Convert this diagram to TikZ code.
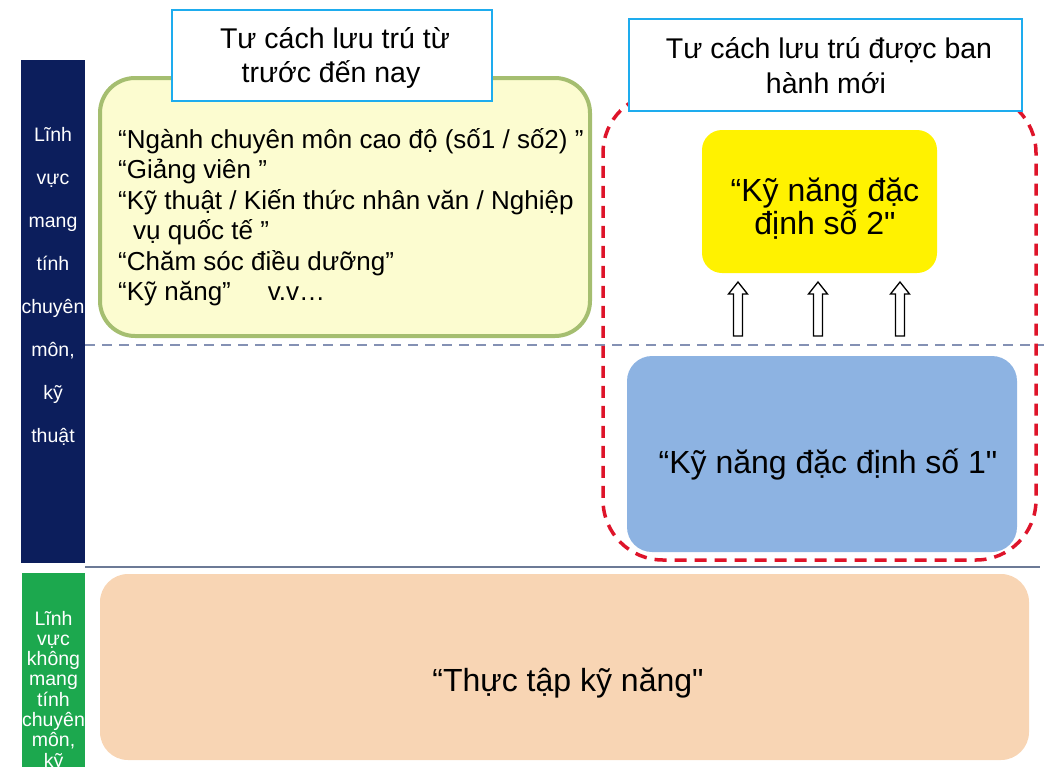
\documentclass[tikz,border=0pt]{standalone}
\usepackage{fontspec}
\setmainfont{Liberation Sans}[Ligatures=TeXOff]
\definecolor{navybar}{RGB}{12,30,92}
\definecolor{greenbar}{RGB}{28,168,78}
\definecolor{oliveedge}{RGB}{165,190,112}
\definecolor{paleyellow}{RGB}{252,252,208}
\definecolor{calloutblue}{RGB}{30,172,238}
\definecolor{dashred}{RGB}{222,20,42}
\definecolor{skyfill}{RGB}{141,179,226}
\definecolor{peachfill}{RGB}{248,213,180}
\definecolor{sepblue}{RGB}{132,145,180}
\definecolor{rulegray}{RGB}{108,122,150}
\begin{document}
\begin{tikzpicture}[x=1pt,y=-1pt,
  bartext/.style={text=white, font=\fontsize{19.5}{20}\selectfont, inner sep=0, anchor=base},
  listtext/.style={font=\fontsize{26}{30}\selectfont, inner sep=0, anchor=base west},
  bigtext/.style={font=\fontsize{32}{36}\selectfont, inner sep=0, anchor=base},
  calltext/.style={font=\fontsize{28.5}{34}\selectfont, inner sep=0, anchor=base},
  panel/.style={inner sep=0, outer sep=0},
  callout/.style={panel, draw=calloutblue, line width=2, fill=white},
  hollowarrow/.style={draw=black, fill=white, line width=1.3, line join=miter}
]
\useasboundingbox (0,0) rectangle (1044,766);

% side bars
\node[panel, fill=navybar, minimum width=64, minimum height=503] (techbar) at (53,311.5) {};
\node[panel, fill=greenbar, minimum width=63, minimum height=200] (plainbar) at (53.5,673) {};
\foreach \w [count=\i] in {Lĩnh, vực, mang, tính, chuyên, {môn,}, kỹ, thuật}
  \node[bartext] (techword\i) at (53,141.7+43*\i-43) {\w};
\foreach \w [count=\i] in {Lĩnh, vực, không, mang, tính, chuyên, {môn,}, kỹ}
  \node[bartext] (plainword\i) at (53.5,625+20.3*\i-20.3) {\w};

% existing statuses
\node[panel, draw=oliveedge, fill=paleyellow, line width=4, rounded corners=35,
      minimum width=490, minimum height=258] (older) at (345,207) {};
\node[listtext] (item1) at (118,148) {“Ngành chuyên môn cao độ (số1 / số2) ”};
\node[listtext] (item2) at (118,178.5) {“Giảng viên ”};
\node[listtext] (item3) at (118,209) {“Kỹ thuật / Kiến thức nhân văn / Nghiệp};
\node[listtext] (item4) at (133,239.5) {vụ quốc tế ”};
\node[listtext] (item5) at (118,270) {“Chăm sóc điều dưỡng”};
\node[listtext] (item6) at (118,300.5) {“Kỹ năng”\hspace{37pt}v.v…};

% separators
\coordinate (sepL) at (85,345);
\coordinate (sepR) at (1044,345);
\draw[sepblue, line width=2.6, dash pattern=on 10 off 7] (sepL) -- (sepR);
\coordinate (ruleL) at (85,566.5);
\coordinate (ruleR) at (1040,566.5);
\draw[rulegray, line width=2] (ruleL) -- (ruleR);

% new statuses
\node[panel, fill=skyfill, rounded corners=25, minimum width=390, minimum height=196] (ssw1) at (822,454) {};
\node[bigtext] (ssw1text) at (828,473) {“Kỹ năng đặc định số 1"};
\node[panel, fill=yellow, rounded corners=20, minimum width=235, minimum height=143] (ssw2) at (819.5,201.5) {};
\node[bigtext] (ssw2a) at (825,201) {“Kỹ năng đặc};
\node[bigtext] (ssw2b) at (825,234) {định số 2"};
\node[panel, draw=dashred, line width=3.5, dash pattern=on 12 off 8, rounded corners=60,
      minimum width=433, minimum height=467] (newgroup) at (819.5,326.5) {};

% upgrade arrows
\foreach \ax [count=\i] in {738,818,900} {
  \draw[hollowarrow] (\ax-4.5,336) -- (\ax-4.5,294) -- (\ax-9.5,294) -- (\ax,282)
    -- (\ax+9.5,294) -- (\ax+4.5,294) -- (\ax+4.5,336) -- cycle;
}

% technical intern training
\node[panel, fill=peachfill, rounded corners=28, minimum width=929, minimum height=186] (intern) at (564.5,667) {};
\node[bigtext] (interntext) at (568,691) {“Thực tập kỹ năng"};

% headings
\node[callout, minimum width=320, minimum height=91] (oldhead) at (332,55.5) {};
\node[calltext] (oldhead1) at (335,48.5) {Tư cách lưu trú từ};
\node[calltext] (oldhead2) at (331,82) {trước đến nay};
\node[callout, minimum width=393, minimum height=92] (newhead) at (825.5,65) {};
\node[calltext] (newhead1) at (829,58.5) {Tư cách lưu trú được ban};
\node[calltext] (newhead2) at (826,93) {hành mới};
\end{tikzpicture}
\end{document}
